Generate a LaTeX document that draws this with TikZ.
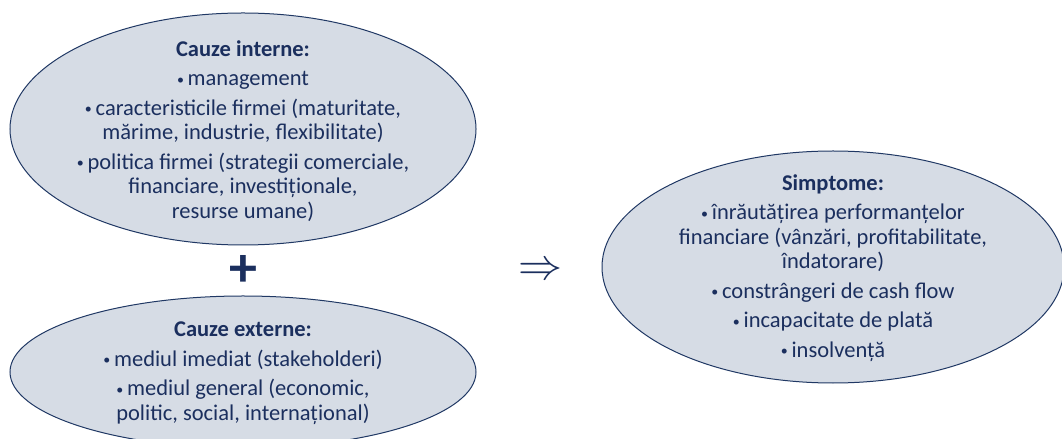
\documentclass[tikz,border=0pt]{standalone}
\usepackage{fontspec}
\setmainfont{Carlito}
\usetikzlibrary{shapes.geometric}
\definecolor{navy}{HTML}{1B2F5E}
\definecolor{ellfill}{HTML}{D6DCE5}
\definecolor{elldraw}{HTML}{203864}
\newcommand{\bul}{{\fontsize{14bp}{14bp}\selectfont\raisebox{1.5bp}{•}}\,}
\tikzset{
  ell/.style={ellipse, draw=elldraw, fill=ellfill, line width=1bp, inner sep=0pt},
  txt/.style={align=center, text=navy, font=\fontsize{22.5bp}{24.5bp}\selectfont, inner sep=0pt}
}
\begin{document}
\begin{tikzpicture}[x=1bp,y=-1bp]
\useasboundingbox (0,0) rectangle (1062,439);
\clip (0,0) rectangle (1062,439);
\node[ell, minimum width=466bp, minimum height=232bp] (intE) at (243,129) {};
\node[txt] (intT) at (243,131) {\textbf{Cauze interne:}\\[5bp]
\bul management\\[5bp]
\bul caracteristicile firmei (maturitate,\\
mărime, industrie, flexibilitate)\\[5bp]
\bul politica firmei (strategii comerciale,\\
financiare, investiționale,\\
resurse umane)};
\node[text=navy, font=\fontsize{56bp}{56bp}\selectfont\bfseries, inner sep=0pt] (plus) at (243,271) {+};
\node[ell, minimum width=466bp, minimum height=152bp] (extE) at (243,372) {};
\node[txt] (extT) at (243,373) {\textbf{Cauze externe:}\\[5bp]
\bul mediul imediat (stakeholderi)\\[5bp]
\bul mediul general (economic,\\
politic, social, internațional)};
\node[text=navy, inner sep=0pt] (arr) at (540,271) {\resizebox{44bp}{!}{$\Rightarrow$}};
\node[ell, minimum width=462bp, minimum height=232bp] (simE) at (833,267) {};
\node[txt] (simT) at (833,268) {\textbf{Simptome:}\\[5bp]
\bul înrăutățirea performanțelor\\
financiare (vânzări, profitabilitate,\\
îndatorare)\\[5bp]
\bul constrângeri de cash flow\\[5bp]
\bul incapacitate de plată\\[5bp]
\bul insolvență};
\end{tikzpicture}
\end{document}
